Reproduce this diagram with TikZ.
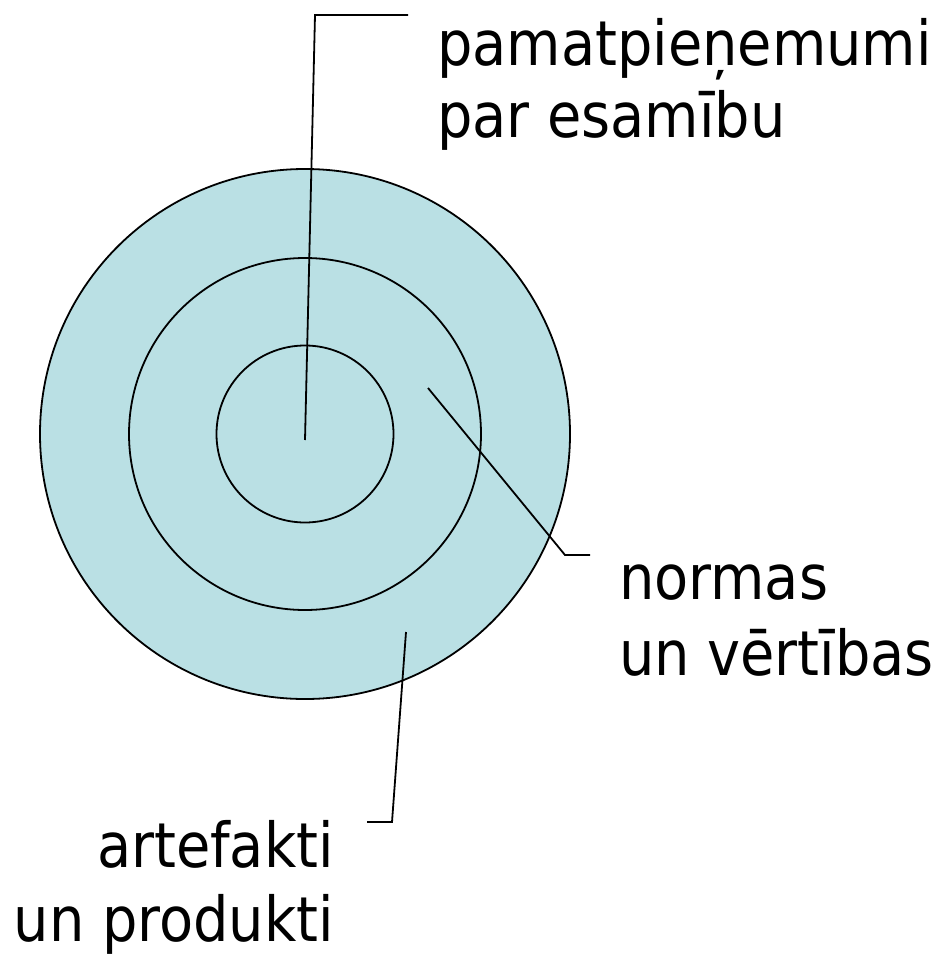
\documentclass[tikz,border=0pt]{standalone}
\usepackage{fontspec}
\setmainfont{DejaVu Sans Condensed}
\definecolor{ringfill}{RGB}{186,224,228}
\begin{document}
\begin{tikzpicture}[x=1pt,y=-1pt,
  ring/.style={draw=black,line width=1.8pt},
  leader/.style={draw=black,line width=1.8pt,line join=miter},
  lbl/.style={inner sep=0pt,font=\fontsize{62}{74}\selectfont}]
\useasboundingbox (0,0) rectangle (938,955);
\node[ring,circle,fill=ringfill,minimum size=530pt,inner sep=0pt] (outer) at (305,434) {};
\node[ring,circle,minimum size=352pt,inner sep=0pt] (middle) at (305,434) {};
\node[ring,circle,minimum size=177pt,inner sep=0pt] (inner) at (305,434) {};
% labels
\node[lbl,anchor=base west] (t1a) at (437,66) {pamatpieņemumi};
\node[lbl,anchor=base west] (t1b) at (437,138) {par esamību};
\node[lbl,anchor=base west] (t2a) at (619,599) {normas};
\node[lbl,anchor=base west] (t2b) at (619,675) {un vērtības};
\node[lbl,anchor=base east] (t3a) at (334,867) {artefakti};
\node[lbl,anchor=base east] (t3b) at (334,941) {un produkti};
% leader coordinates
\coordinate (p1) at (305,440);
\coordinate (k1) at (315,15);
\coordinate (e1) at (408,15);
\coordinate (p2) at (428,388);
\coordinate (k2) at (565,555);
\coordinate (e2) at (590,555);
\coordinate (p3) at (406,632);
\coordinate (k3) at (392,822);
\coordinate (e3) at (367,822);
\draw[leader] (p1) -- (k1) -- (e1);
\draw[leader] (p2) -- (k2) -- (e2);
\draw[leader] (p3) -- (k3) -- (e3);
\end{tikzpicture}
\end{document}
